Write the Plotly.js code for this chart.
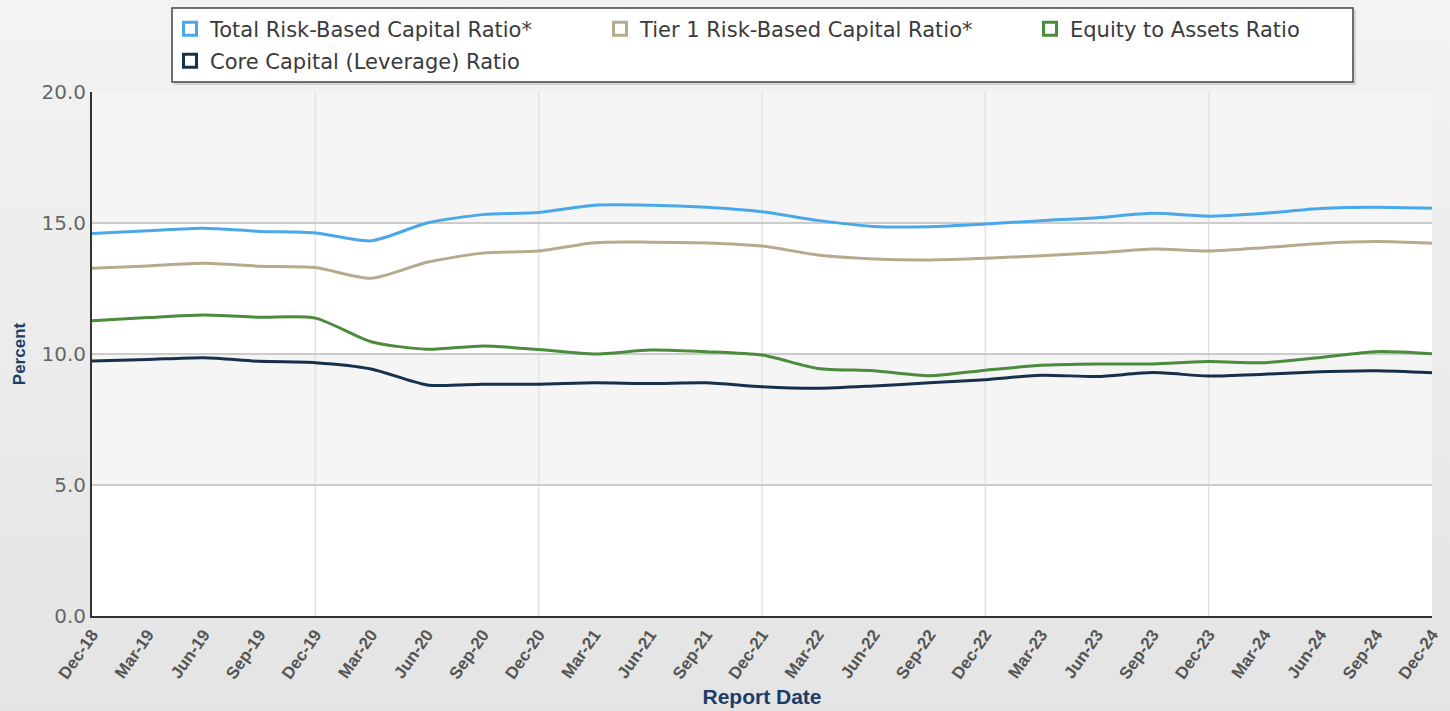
<!DOCTYPE html>
<html>
<head>
<meta charset="utf-8">
<script src="https://cdn.plot.ly/plotly-3.0.1.min.js"></script>
<style>
  html, body { margin: 0; padding: 0; }
  body { width: 1450px; height: 711px; background: linear-gradient(#f3f3f3, #e4e4e4); overflow: hidden; }
  #chart { width: 1450px; height: 711px; }
</style>
</head>
<body>
<div id="chart"></div>
<script>
const quarters = ['Dec-18','Mar-19','Jun-19','Sep-19','Dec-19','Mar-20','Jun-20','Sep-20','Dec-20',
  'Mar-21','Jun-21','Sep-21','Dec-21','Mar-22','Jun-22','Sep-22','Dec-22',
  'Mar-23','Jun-23','Sep-23','Dec-23','Mar-24','Jun-24','Sep-24','Dec-24'];

const totalRiskBased = [14.60, 14.70, 14.80, 14.68, 14.62, 14.32, 15.00, 15.32, 15.40,
  15.68, 15.68, 15.60, 15.43, 15.10, 14.87, 14.86, 14.96,
  15.09, 15.20, 15.37, 15.26, 15.37, 15.55, 15.60, 15.56];

const tier1RiskBased = [13.27, 13.36, 13.46, 13.35, 13.30, 12.89, 13.50, 13.85, 13.93,
  14.25, 14.27, 14.24, 14.12, 13.78, 13.63, 13.59, 13.65,
  13.75, 13.86, 14.01, 13.93, 14.06, 14.22, 14.29, 14.23];

const equityToAssets = [11.27, 11.39, 11.49, 11.40, 11.37, 10.47, 10.18, 10.31, 10.17,
  10.00, 10.15, 10.09, 9.96, 9.45, 9.36, 9.17, 9.38,
  9.57, 9.62, 9.62, 9.71, 9.67, 9.87, 10.09, 10.01];

const coreCapital = [9.73, 9.79, 9.86, 9.72, 9.67, 9.43, 8.82, 8.85, 8.85,
  8.90, 8.87, 8.90, 8.75, 8.69, 8.78, 8.90, 9.02,
  9.19, 9.14, 9.29, 9.16, 9.23, 9.32, 9.36, 9.28];

const seriesNames = ['Total Risk-Based Capital Ratio*', 'Tier 1 Risk-Based Capital Ratio*',
  'Equity to Assets Ratio', 'Core Capital (Leverage) Ratio'];
const seriesValues = [totalRiskBased, tier1RiskBased, equityToAssets, coreCapital];
const seriesColors = ['#4aa8e8', '#b5aa8b', '#4a8b3c', '#17304b'];
const yearEndGrid = ['Dec-19', 'Dec-20', 'Dec-21', 'Dec-22', 'Dec-23'];
const yTicks = [0, 5, 10, 15, 20];

const legendIds = ['legend', 'legend2', 'legend3', 'legend4'];
const legendPos = [[170, 29], [600, 29], [1030, 29], [170, 61]];

const traces = [];
// data lines
seriesValues.forEach((vals, i) => {
  traces.push({
    type: 'scatter', mode: 'lines', x: quarters, y: vals, name: seriesNames[i],
    line: { color: seriesColors[i], width: 3, shape: 'spline', smoothing: 0.7 },
    showlegend: false, legendgroup: 'g' + i, hoverinfo: 'x+y+name'
  });
});
// legend entries (hollow squares)
seriesValues.forEach((vals, i) => {
  traces.push({
    type: 'scatter', mode: 'markers', x: [null], y: [null], name: seriesNames[i],
    marker: { symbol: 'square-open', size: 13, color: seriesColors[i], line: { width: 3, color: seriesColors[i] } },
    showlegend: true, legendgroup: 'g' + i, legend: legendIds[i], hoverinfo: 'skip'
  });
});

const W = 1450, H = 711;
const legendFont = { family: 'DejaVu Sans, Verdana, sans-serif', size: 21, color: '#3a3a3a' };

const layout = {
  width: W, height: H,
  paper_bgcolor: 'rgba(0,0,0,0)', plot_bgcolor: '#ffffff',
  margin: { l: 92, r: 18, t: 92, b: 95, pad: 0 },
  xaxis: {
    type: 'category', categoryorder: 'array', categoryarray: quarters,
    range: [0, quarters.length - 1],
    tickvals: quarters, ticktext: quarters, tickangle: -55,
    tickfont: { family: 'Liberation Sans, Arial, sans-serif', size: 17, color: '#555555', weight: 'bold' },
    showgrid: false, zeroline: false,
    showline: true, linecolor: '#333333', linewidth: 2,
    ticks: '', fixedrange: true,
    title: { text: '<b>Report Date</b>', font: { family: 'Liberation Sans, Arial, sans-serif', size: 21, color: '#1d3c6a' }, standoff: 8 },
    automargin: false
  },
  yaxis: {
    range: [0, 20], tickvals: yTicks, tickformat: '.1f',
    tickfont: { family: 'DejaVu Sans, Verdana, sans-serif', size: 20, color: '#666666' },
    showgrid: true, gridcolor: '#cccccc', gridwidth: 1.5, zeroline: false,
    showline: true, linecolor: '#333333', linewidth: 2,
    ticks: '', fixedrange: true,
    title: { text: '<b>Percent</b>', font: { family: 'Liberation Sans, Arial, sans-serif', size: 17, color: '#1d3c6a' }, standoff: 12 },
    automargin: false
  },
  shapes: [],
  hovermode: 'closest'
};

// alternate bands (5-10, 15-20)
[[5, 10], [15, 20]].forEach(b => {
  layout.shapes.push({ type: 'rect', xref: 'paper', yref: 'y', x0: 0, x1: 1, y0: b[0], y1: b[1],
    fillcolor: '#f5f5f5', line: { width: 0 }, layer: 'below' });
});
// yearly vertical grid lines
yearEndGrid.forEach(q => {
  layout.shapes.push({ type: 'line', xref: 'x', yref: 'paper', x0: q, x1: q, y0: 0, y1: 1,
    line: { color: '#e2e2e2', width: 1.5 }, layer: 'below' });
});

// legend frame (paper coords computed from plot box 92..1432 x 92..616)
const px = v => (v - 92) / 1340;
const py = v => (616 - v) / 524;
layout.shapes.push({ type: 'rect', xref: 'paper', yref: 'paper', x0: px(174), x1: px(1356), y0: py(85), y1: py(10),
  fillcolor: 'rgba(0,0,0,0.12)', line: { width: 0 }, layer: 'below' });
layout.shapes.push({ type: 'rect', xref: 'paper', yref: 'paper', x0: px(172), x1: px(1353), y0: py(82), y1: py(8),
  fillcolor: '#ffffff', line: { color: '#444444', width: 1.5 }, layer: 'below' });

legendIds.forEach((id, i) => {
  layout[id] = {
    xref: 'container', yref: 'container',
    x: legendPos[i][0] / W, xanchor: 'left',
    y: 1 - legendPos[i][1] / H, yanchor: 'middle',
    bgcolor: 'rgba(0,0,0,0)', borderwidth: 0,
    font: legendFont, orientation: 'h', itemclick: false, itemdoubleclick: false
  };
});

Plotly.newPlot('chart', traces, layout, { displayModeBar: false, staticPlot: false, responsive: false });
</script>
</body>
</html>
